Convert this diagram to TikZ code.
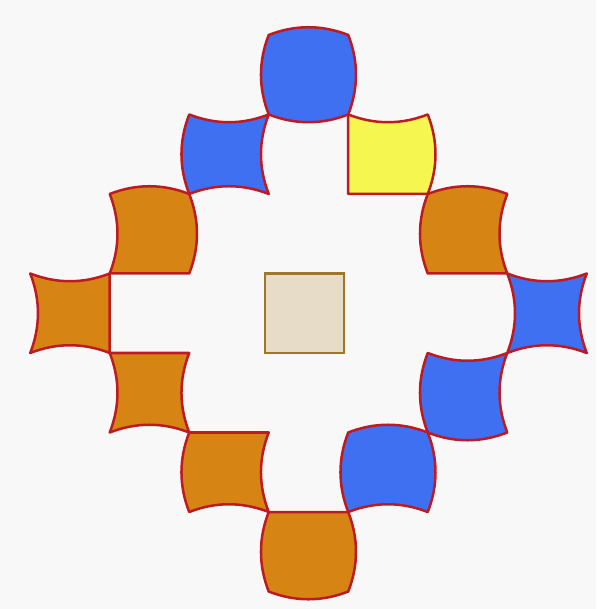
\documentclass[tikz,border=0pt]{standalone}
\usepackage{tikz}

\definecolor{bgrey}{RGB}{248,248,248}
\definecolor{edgered}{RGB}{190,26,34}
\definecolor{tileblue}{RGB}{64,112,242}
\definecolor{tileorange}{RGB}{214,132,20}
\definecolor{tileyellow}{RGB}{246,246,80}
\definecolor{tilebeige}{RGB}{230,220,200}
\definecolor{beigeline}{RGB}{160,118,40}

% bulge of a curved side
\newcommand{\bh}{0.13}
% #1 col, #2 row, #3 colour, sides: #4 top, #5 right, #6 bottom, #7 left
% (1 = bulges out, -1 = dents in, 0 = straight)
\newcommand{\tile}[7]{%
  \filldraw[tileline, fill=#3] (#1,#2)
    .. controls ({#1+1/3},{#2-(#4)*\bh}) and ({#1+2/3},{#2-(#4)*\bh}) .. ({#1+1},#2)
    .. controls ({#1+1+(#5)*\bh},{#2+1/3}) and ({#1+1+(#5)*\bh},{#2+2/3}) .. ({#1+1},{#2+1})
    .. controls ({#1+2/3},{#2+1+(#6)*\bh}) and ({#1+1/3},{#2+1+(#6)*\bh}) .. (#1,{#2+1})
    .. controls ({#1-(#7)*\bh},{#2+2/3}) and ({#1-(#7)*\bh},{#2+1/3}) .. cycle;}

\begin{document}
\begin{tikzpicture}[
  x=1cm, y=-1cm,
  tileline/.style={draw=edgered, line width=0.9pt, line join=round},
  centre/.style={draw=beigeline, fill=tilebeige, line width=0.8pt}
]
  % Background
  \fill[bgrey] (-0.38,-0.44) rectangle (7.12,7.22);
  \useasboundingbox (-0.38,-0.44) rectangle (7.12,7.22);

  % Top
  \tile{3}{0}{tileblue}{1}{1}{1}{1}
  \tile{2}{1}{tileblue}{-1}{-1}{-1}{1}
  \tile{4}{1}{tileyellow}{-1}{1}{0}{0}

  % Upper sides
  \tile{1}{2}{tileorange}{1}{1}{0}{-1}
  \tile{5}{2}{tileorange}{1}{-1}{0}{1}

  % Middle row
  \tile{0}{3}{tileorange}{-1}{0}{-1}{-1}
  \tile{6}{3}{tileblue}{-1}{-1}{-1}{-1}

  % Lower sides
  \tile{1}{4}{tileorange}{0}{-1}{-1}{-1}
  \tile{5}{4}{tileblue}{-1}{-1}{1}{1}

  % Bottom
  \tile{2}{5}{tileorange}{0}{-1}{-1}{1}
  \tile{4}{5}{tileblue}{1}{1}{-1}{1}
  \tile{3}{6}{tileorange}{0}{1}{1}{1}

  % Centre square
  \filldraw[centre] (2.95,3) rectangle (3.95,4);
\end{tikzpicture}
\end{document}
